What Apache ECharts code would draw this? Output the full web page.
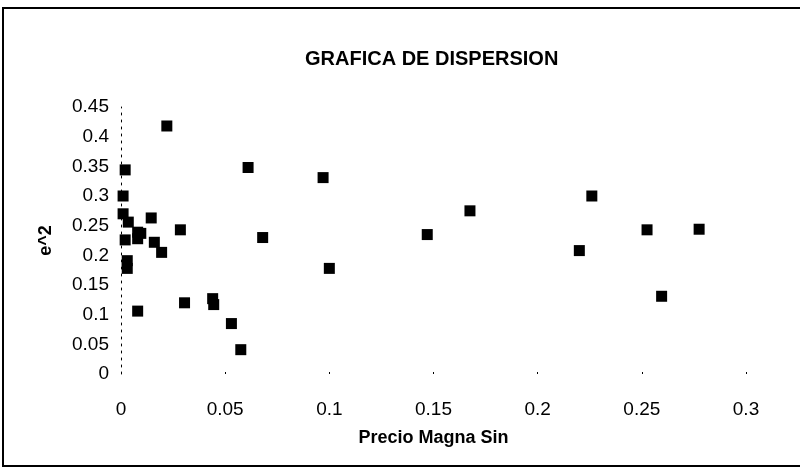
<!DOCTYPE html>
<html>
<head>
<meta charset="utf-8">
<script src="https://cdn.jsdelivr.net/npm/echarts@6/dist/echarts.min.js"></script>
<style>
  html, body { margin: 0; padding: 0; background: #fff; }
  #chart { width: 800px; height: 476px; }
</style>
</head>
<body>
<div id="chart"></div>
<script>
// valores
var precio = [0.022, 0.002, 0.061, 0.097, 0.001, 0.001, 0.0035, 0.0145, 0.0285, 0.008,
  0.0095, 0.008, 0.002, 0.068, 0.016, 0.0195, 0.003, 0.003, 0.100, 0.0305,
  0.044, 0.0445, 0.008, 0.053, 0.0575, 0.147, 0.1675, 0.226, 0.220, 0.2525,
  0.2775, 0.2595];
var e2 = [0.418, 0.344, 0.348, 0.331, 0.300, 0.270, 0.256, 0.263, 0.243, 0.239,
  0.237, 0.228, 0.226, 0.230, 0.222, 0.205, 0.191, 0.178, 0.178, 0.120,
  0.127, 0.117, 0.106, 0.085, 0.041, 0.235, 0.275, 0.300, 0.208, 0.243,
  0.244, 0.131];

var puntos = precio.map(function (x, i) { return [x, e2[i]]; });

var font = "'Liberation Sans', Arial, sans-serif";

var option = {
  animation: false,
  title: {
    text: "GRAFICA DE DISPERSION",
    left: 305,
    top: 49,
    padding: 0,
    textStyle: { fontSize: 20, fontWeight: "bold", color: "#000", fontFamily: font }
  },
  graphic: [
    {
      type: "rect",
      shape: { x: 3, y: 8, width: 820, height: 458 },
      style: { fill: "none", stroke: "#000", lineWidth: 2 },
      silent: true
    }
  ],
  grid: { left: 121, right: 54, top: 107, bottom: 102 },
  xAxis: {
    type: "value",
    min: 0,
    max: 0.3,
    interval: 0.05,
    name: "Precio Magna Sin",
    nameLocation: "middle",
    nameGap: 55,
    nameTextStyle: { fontSize: 18, fontWeight: "bold", color: "#000", fontFamily: font },
    axisLine: { show: false },
    axisTick: { show: true, inside: true, length: 2, lineStyle: { color: "#000" } },
    splitLine: { show: false },
    axisLabel: { fontSize: 19, color: "#000", fontFamily: font, margin: 26 }
  },
  yAxis: {
    type: "value",
    min: 0,
    max: 0.45,
    interval: 0.05,
    name: "e^2",
    nameLocation: "middle",
    nameGap: 66,
    nameRotate: 90,
    nameTextStyle: { fontSize: 18, fontWeight: "bold", color: "#000", fontFamily: font },
    axisLine: { show: true, lineStyle: { color: "#000", width: 1, type: [2, 5] } },
    axisTick: { show: false },
    splitLine: { show: false },
    axisLabel: { fontSize: 19, color: "#000", fontFamily: font, margin: 12 }
  },
  series: [
    {
      type: "scatter",
      symbol: "rect",
      symbolSize: 11,
      itemStyle: { color: "#000", opacity: 1 },
      data: puntos
    }
  ]
};

var myChart = echarts.init(document.getElementById("chart"));
myChart.setOption(option);
</script>
</body>
</html>
